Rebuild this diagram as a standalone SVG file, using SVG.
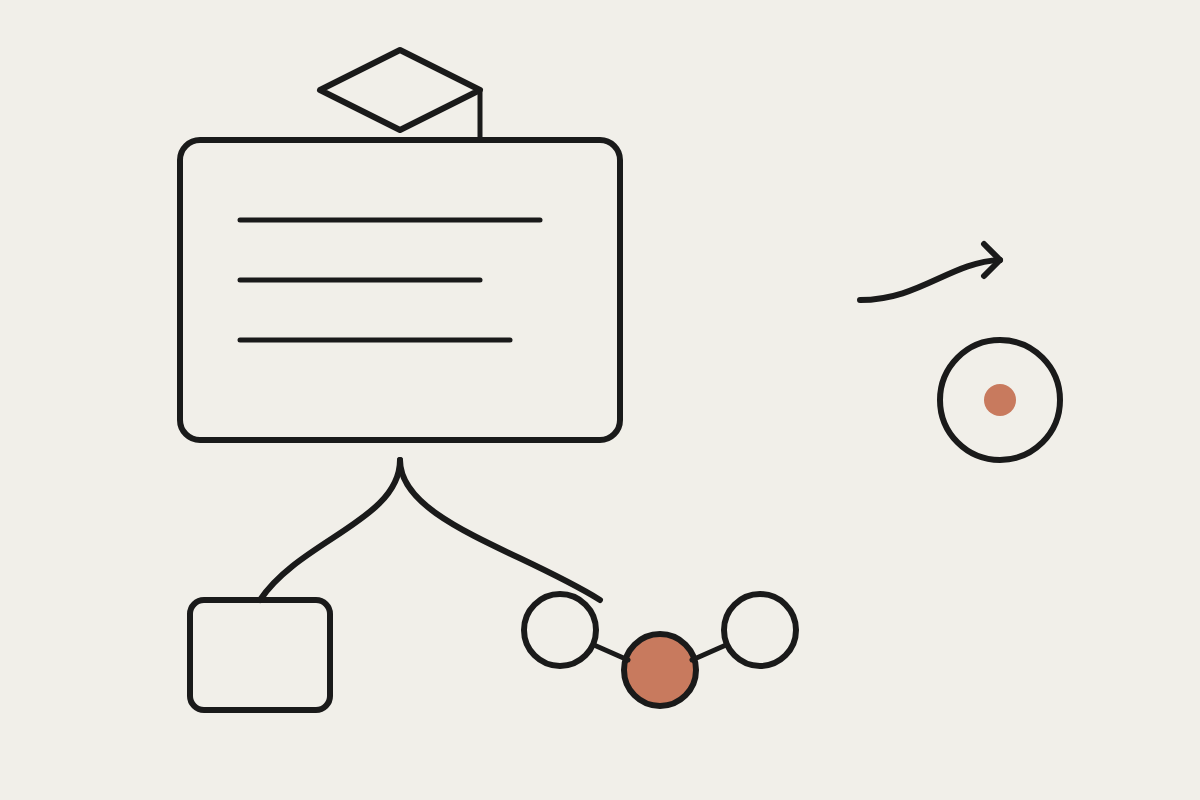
<svg xmlns="http://www.w3.org/2000/svg" width="1200" height="800" viewBox="0 0 1200 800">
<style>
.s{fill:none;stroke:#1a1a1a;stroke-width:6;stroke-linecap:round;stroke-linejoin:round}
.t{fill:none;stroke:#1a1a1a;stroke-width:5;stroke-linecap:round;stroke-linejoin:round}
.acc{fill:#c87a5e}
</style>
<rect width="1200" height="800" fill="#f1efe9"/>
<g id="diamond">
<polygon class="s" points="320,90 400,50 480,90 400,130"/>
</g>
<g id="card">
<rect class="s" x="180" y="140" width="440" height="300" rx="20"/>
<line class="t" x1="240" y1="220" x2="540" y2="220"/>
<line class="t" x1="240" y1="280" x2="480" y2="280"/>
<line class="t" x1="240" y1="340" x2="510" y2="340"/>
</g>
<g id="box">
<rect class="s" x="190" y="600" width="140" height="110" rx="14"/>
</g>
<g id="n1"><circle class="s" cx="560" cy="630" r="36"/></g>
<g id="n2"><circle class="s acc" cx="660" cy="670" r="36" style="fill:#c87a5e"/></g>
<g id="n3"><circle class="s" cx="760" cy="630" r="36"/></g>
<g id="target">
<circle class="s" cx="1000" cy="400" r="60"/>
<circle class="acc" cx="1000" cy="400" r="16"/>
</g>
<g id="connectors">
<line class="t" x1="480" y1="90" x2="480" y2="140" style="stroke-linecap:butt"/>
<path class="s" d="M400,460 C400,520 300,540 260,600"/>
<path class="s" d="M400,460 C400,520 520,550 600,600"/>
<line class="t" x1="594" y1="645" x2="628" y2="660"/>
<line class="t" x1="692" y1="660" x2="726" y2="645"/>
<path class="s" d="M860,300 C920,300 950,262 1000,260"/>
<polyline class="s" points="984,244 1000,260 984,276"/>
</g>
</svg>
